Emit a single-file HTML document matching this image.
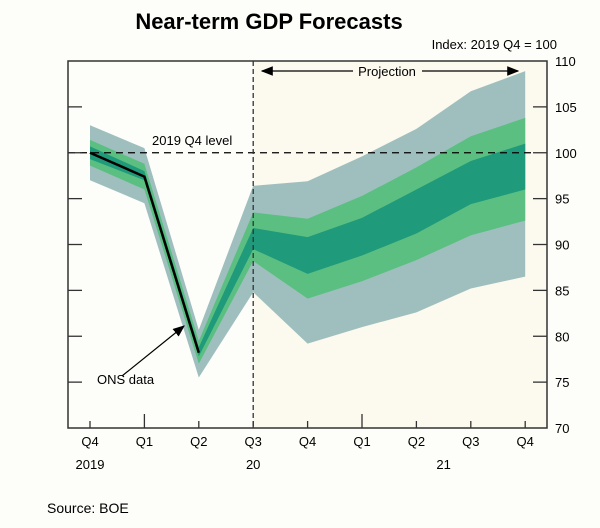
<!DOCTYPE html>
<html><head><meta charset="utf-8"><style>
html,body{margin:0;padding:0;background:#fff}
svg{display:block;font-family:"Liberation Sans",sans-serif}
</style></head><body>
<svg id="c" width="600" height="528">
<rect x="0" y="0" width="600" height="528" fill="#fdfdf9"/>
<text x="269" y="29" text-anchor="middle" font-size="22" font-weight="bold" fill="#000">Near-term GDP Forecasts</text>
<text x="557" y="49" text-anchor="end" font-size="13" fill="#000">Index: 2019 Q4 = 100</text>
<rect x="253" y="61" width="294" height="367" fill="#fcf9ee"/>
<g id="bands"></g>
<g id="axes"></g>
<text x="47" y="513" font-size="14" fill="#000">Source: BOE</text>
</svg>
<script>
const categories=["Q4","Q1","Q2","Q3","Q4","Q1","Q2","Q3","Q4"];
const years=["2019","","","20","","","","",""];
const outerUpper=[103,100.5,80.7,96.4,96.9,99.6,102.6,106.7,108.9];
const outerLower=[97,94.5,75.5,84.8,79.2,81,82.6,85.2,86.5];
const midUpper=[101.4,98.8,79.5,93.5,92.8,95.3,98.4,101.8,103.8];
const midLower=[98.6,96,77,88.2,84.1,86,88.3,91,92.6];
const innerUpper=[100.7,98,78.8,91.8,90.8,92.9,96,99.1,101];
const innerLower=[99.3,97,77.8,89.5,86.8,88.8,91.2,94.4,96];
const onsData=[100,97.4,78.2];
const yTicks=[70,75,80,85,90,95,100,105,110];
const NS="http://www.w3.org/2000/svg";
const L=68,R=547,T=61,B=428;
function xs(i){return 90+i*54.4;}
function ys(v){return T+(110-v)*(B-T)/40;}
function mk(tag,attrs,parent){const e=document.createElementNS(NS,tag);for(const k in attrs)e.setAttribute(k,attrs[k]);parent.appendChild(e);return e;}
const bands=document.getElementById('bands');
function band(up,lo,color,name){
  let d="M"+up.map((v,i)=>xs(i)+","+ys(v)).join("L");
  for(let i=lo.length-1;i>=0;i--)d+="L"+xs(i)+","+ys(lo[i]);
  const p=mk('path',{d:d+"Z",fill:color},bands);
  
  
}
band(outerUpper,outerLower,"#9fbfbe","outer-band");
band(midUpper,midLower,"#5cbf82","middle-band");
band(innerUpper,innerLower,"#1f9a7a","inner-band");
const ax=document.getElementById('axes');
const ref=mk('line',{x1:L,x2:R-15,y1:ys(100),y2:ys(100),stroke:"#000","stroke-width":1.3,"stroke-dasharray":"7,5"},ax);


const rl=mk('text',{x:152,y:ys(100)-8,"font-size":13},ax);rl.textContent="2019 Q4 level";


const ons=mk('polyline',{points:onsData.map((v,i)=>xs(i)+","+ys(v)).join(" "),fill:"none",stroke:"#000","stroke-width":2.5},ax);


const dv=mk('line',{x1:xs(3),x2:xs(3),y1:T,y2:B,stroke:"#333","stroke-width":1.3,"stroke-dasharray":"5,3"},ax);


mk('defs',{},ax).innerHTML='<marker id="ah" markerWidth="10" markerHeight="8" refX="9" refY="4" orient="auto-start-reverse"><path d="M0,0L10,4L0,8Z" fill="#000"/></marker>';
const pa1=mk('line',{x1:262,x2:353,y1:71,y2:71,stroke:"#000","stroke-width":1.2,"marker-start":"url(#ah)"},ax);


const pa2=mk('line',{x1:422,x2:518,y1:71,y2:71,stroke:"#000","stroke-width":1.2,"marker-end":"url(#ah)"},ax);


const pt=mk('text',{x:387,y:76,"text-anchor":"middle","font-size":13},ax);pt.textContent="Projection";


const oa=mk('line',{x1:122,y1:376,x2:184,y2:326,stroke:"#000","stroke-width":1.2,"marker-end":"url(#ah)"},ax);


const ot=mk('text',{x:97,y:384,"font-size":13},ax);ot.textContent="ONS data";


const fr=mk('rect',{x:L,y:T,width:R-L,height:B-T,fill:"none",stroke:"#333","stroke-width":1.5},ax);


yTicks.forEach(v=>{
  if(v>70&&v<110){
    const t1=mk('line',{x1:L,x2:L+14,y1:ys(v),y2:ys(v),stroke:"#333","stroke-width":1.3},ax);
    
    
    const t2=mk('line',{x1:R-14,x2:R,y1:ys(v),y2:ys(v),stroke:"#333","stroke-width":1.3},ax);
    
    
  }
  const tl=mk('text',{x:555,y:ys(v)+5,"font-size":13},ax);tl.textContent=v;
  
  
});
categories.forEach((c,i)=>{
  const tall=(i===1||i===5);
  const tk=mk('line',{x1:xs(i),x2:xs(i),y1:B-(tall?14:7),y2:B,stroke:"#333","stroke-width":1.3},ax);
  
  
  const tl=mk('text',{x:xs(i),y:446,"text-anchor":"middle","font-size":13},ax);tl.textContent=c;
  
  
  if(years[i]){
    const yl=mk('text',{x:xs(i),y:469,"text-anchor":"middle","font-size":13},ax);yl.textContent=years[i];
    
    
  }
});
const y21=mk('text',{x:(xs(6)+xs(7))/2,y:469,"text-anchor":"middle","font-size":13},ax);y21.textContent="21";


</script>
</body></html>
